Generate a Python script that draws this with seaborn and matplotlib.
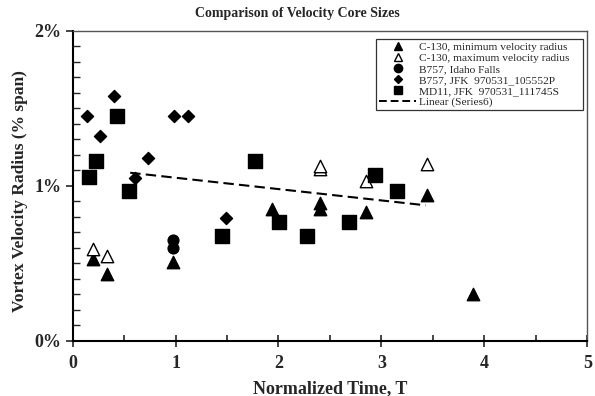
import matplotlib
matplotlib.use("Agg")
import matplotlib.pyplot as plt
from matplotlib.ticker import MultipleLocator, FuncFormatter
from matplotlib.lines import Line2D
import seaborn as sns
import pandas as pd

# C-130 minimum velocity radius (filled triangles)
c130_min_t = [0.20, 0.33, 0.98, 1.94, 2.40, 2.40, 2.85, 3.44, 3.89]
c130_min_r = [0.53, 0.43, 0.51, 0.85, 0.85, 0.89, 0.83, 0.94, 0.30]

# C-130 maximum velocity radius (open triangles)
c130_max_t = [0.20, 0.33, 2.40, 2.40, 2.85, 3.44]
c130_max_r = [0.59, 0.55, 1.11, 1.13, 1.03, 1.14]

# B757 Idaho Falls (circles)
b757_if_t = [0.98, 0.98]
b757_if_r = [0.60, 0.65]

# B757 JFK 970531_105552P (diamonds)
b757_jfk_t = [0.14, 0.27, 0.40, 0.61, 0.73, 0.99, 1.12, 1.49]
b757_jfk_r = [1.45, 1.32, 1.58, 1.05, 1.18, 1.45, 1.45, 0.79]

# MD11 JFK 970531_111745S (squares)
md11_t = [0.16, 0.23, 0.43, 0.55, 1.45, 1.77, 2.01, 2.28, 2.69, 2.94, 3.15]
md11_r = [1.06, 1.16, 1.45, 0.97, 0.68, 1.16, 0.77, 0.68, 0.77, 1.07, 0.97]

# Linear trend (Series6)
trend_t = [0.56, 3.43]
trend_r = [1.085, 0.875]

labels = [
    "C-130, minimum velocity radius",
    "C-130, maximum velocity radius",
    "B757, Idaho Falls",
    "B757, JFK  970531_105552P",
    "MD11, JFK  970531_111745S",
    "Linear (Series6)",
]

sns.set_style("white")
plt.rcParams["font.family"] = ["Liberation Serif", "DejaVu Serif"]

fig = plt.figure(figsize=(5.95, 3.96), dpi=100)
ax = fig.add_axes([0.122, 0.139, 0.865, 0.783])

series = [
    (c130_min_t, c130_min_r, "^", "black", 80),
    (c130_max_t, c130_max_r, "^", "white", 80),
    (b757_if_t, b757_if_r, "o", "black", 60),
    (b757_jfk_t, b757_jfk_r, "D", "black", 38),
    (md11_t, md11_r, "s", "black", 90),
]
for t, r, m, fc, s in series:
    df = pd.DataFrame({"t": t, "r": r})
    sns.scatterplot(data=df, x="t", y="r", marker=m, s=s, color=fc,
                    edgecolor="black", linewidth=1.0, ax=ax, zorder=3)

trend_df = pd.DataFrame({"t": trend_t, "r": trend_r})
sns.lineplot(data=trend_df, x="t", y="r", color="black", linewidth=1.5,
             linestyle=(0, (5, 2.5)), ax=ax, zorder=2)

ax.set_xlim(0, 5)
ax.set_ylim(0, 2)
ax.xaxis.set_major_locator(MultipleLocator(1))
ax.xaxis.set_minor_locator(MultipleLocator(0.5))
ax.yaxis.set_major_locator(MultipleLocator(1))
ax.yaxis.set_minor_locator(MultipleLocator(0.1))
ax.yaxis.set_major_formatter(FuncFormatter(lambda v, p: f"{v:.0f}%"))

ax.tick_params(axis="x", which="major", direction="inout", length=8, width=1.2,
               labelsize=13, pad=6, bottom=True)
ax.tick_params(axis="x", which="minor", direction="in", length=4, width=1.2, bottom=True)
ax.tick_params(axis="y", which="major", direction="out", length=5, width=1.2,
               labelsize=13, pad=3, left=True)
ax.tick_params(axis="y", which="minor", direction="in", length=5, width=1.0, left=True)
for lab in ax.get_xticklabels() + ax.get_yticklabels():
    lab.set_fontweight("bold")

for side in ["left", "bottom"]:
    ax.spines[side].set_color("black")
    ax.spines[side].set_linewidth(1.5)
for side in ["top", "right"]:
    ax.spines[side].set_color("#555555")
    ax.spines[side].set_linewidth(1.0)

ax.set_xlabel("Normalized Time, T", fontsize=13, fontweight="bold", labelpad=6)
ax.set_ylabel("Vortex Velocity Radius (% span)", fontsize=12.5, fontweight="bold")
ax.yaxis.set_label_coords(-0.086, 0.485)
fig.text(0.5, 0.966, "Comparison of Velocity Core Sizes", ha="center", va="center",
         fontsize=10, fontweight="bold")

handles = [
    Line2D([], [], marker="^", color="black", linestyle="none", markersize=6),
    Line2D([], [], marker="^", markerfacecolor="white", markeredgecolor="black",
           linestyle="none", markersize=6),
    Line2D([], [], marker="o", color="black", linestyle="none", markersize=6),
    Line2D([], [], marker="D", color="black", linestyle="none", markersize=4),
    Line2D([], [], marker="s", color="black", linestyle="none", markersize=5.5),
    Line2D([], [], color="black", linestyle=(0, (4, 2)), linewidth=1.4),
]
leg = ax.legend(handles, labels, loc="upper left",
                bbox_to_anchor=(0.5895, 0.974, 0.403, 0.0), mode="expand",
                fontsize=8.2, frameon=True, fancybox=False, borderpad=0.3,
                labelspacing=0.08, handlelength=3.2, handletextpad=0.25,
                borderaxespad=0)
leg.get_frame().set_edgecolor("black")
leg.get_frame().set_linewidth(0.9)

fig.savefig("out.png", dpi=100)
